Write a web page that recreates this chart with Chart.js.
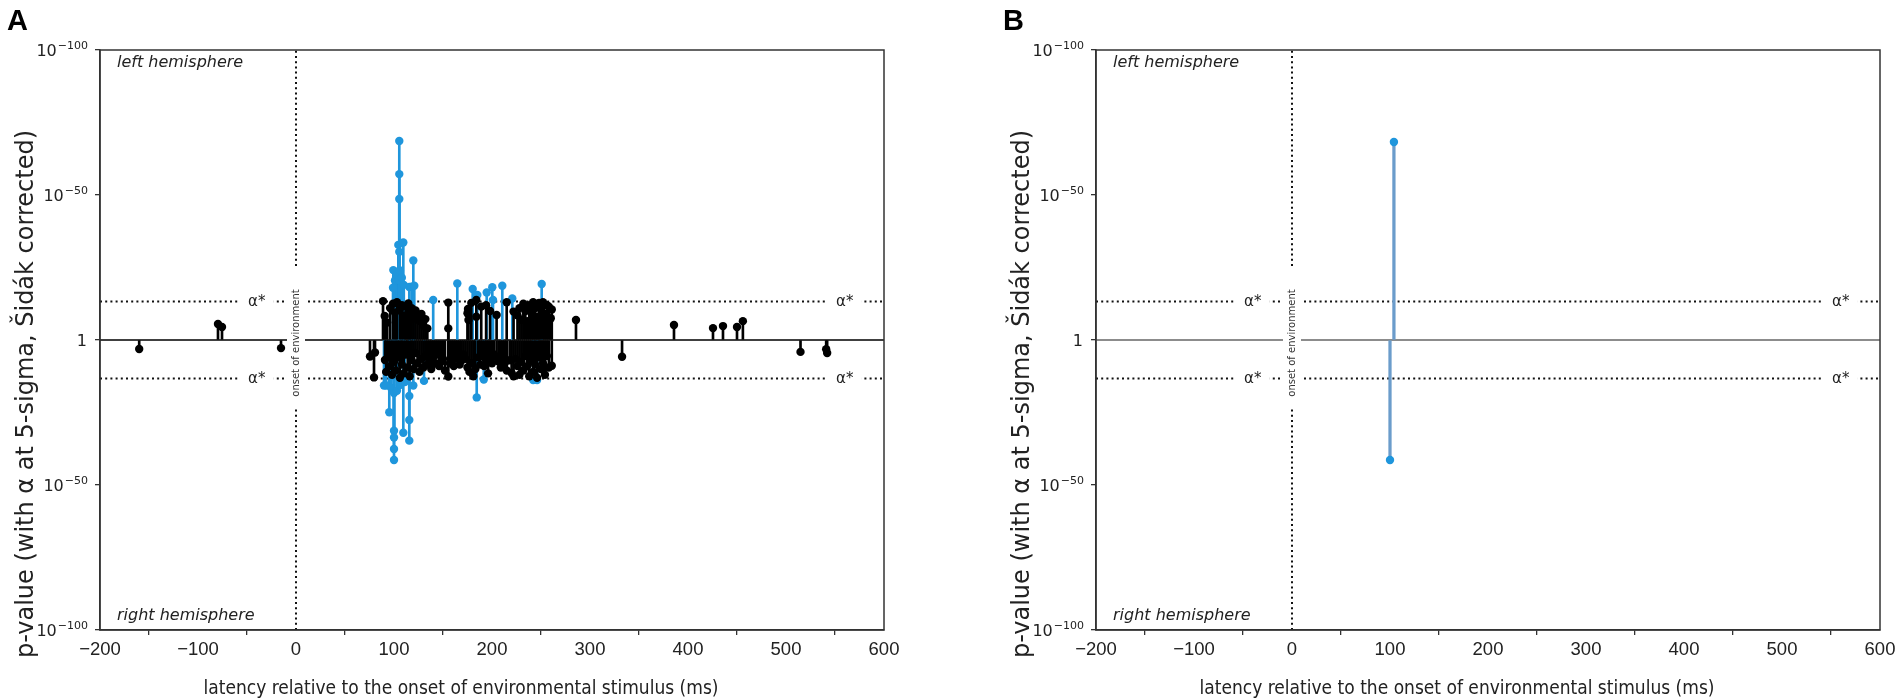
<!DOCTYPE html>
<html>
<head>
<meta charset="utf-8">
<script src="https://cdn.jsdelivr.net/npm/chart.js@4.4.1/dist/chart.umd.min.js"></script>
<style>
  html, body { margin: 0; padding: 0; background: #fff; }
  body { width: 1902px; height: 700px; position: relative; overflow: hidden; }
  .panel { position: absolute; top: 0; width: 906px; height: 700px; }
  #panelA { left: 0; }
  #panelB { left: 996px; }
</style>
</head>
<body>
<div class="panel" id="panelA"><canvas id="chartA"></canvas></div>
<div class="panel" id="panelB"><canvas id="chartB"></canvas></div>
<script>
// axis ticks
const xTicks = [-200, -100, 0, 100, 200, 300, 400, 500, 600];
const xTickLabels = ['\u2212200', '\u2212100', '0', '100', '200', '300', '400', '500', '600'];
const yTicks = [-100, -50, 0, 50, 100];
const yTickBase = ['10', '10', '1', '10', '10'];
const yTickExp = ['\u2212100', '\u221250', '', '\u221250', '\u2212100'];

// signed -log10(p): positive = left hemisphere, negative = right hemisphere
const alphaLevel = 13.3;

// panel A, black stems
const aBlackMs = [
  -79.6, -75.5,
  88.8, 90.5, 93, 96, 99, 101, 103, 106, 108, 110, 112, 114.6, 116, 118, 120, 122, 124, 126, 128, 130, 132, 134,
  155.4, 155.4, 175, 175.5, 176, 178.9, 184, 184, 189, 194, 198,
  204.7, 215, 222,
  226, 228, 230, 232, 234, 236, 238, 240, 242, 244, 246, 248, 250, 252, 254, 256, 258, 260, 261,
  285.7, 385.7, 425.5, 435.7, 450, 456,
  -160, -15.3, 75.5, 79.6, 80.6,
  90.8, 92, 94, 96, 98, 100, 102, 104, 106, 108, 110, 112, 114, 116, 118, 120, 122, 124, 126, 128, 130, 132, 134,
  136, 138, 140, 142, 144, 146, 148, 150, 152, 155.4, 157, 159, 161, 163, 165, 167, 169, 171, 173, 175, 177, 179,
  181, 183, 186, 188, 190, 192, 194, 196, 198, 200, 202, 204.7, 207, 209, 211, 213, 215, 218, 220, 222, 224, 226,
  228, 230, 232, 234, 236, 238, 240, 242, 244, 246, 248, 250, 252, 254, 256, 258, 261,
  332.7, 514.8, 541, 542
];
const aBlackLogP = [
  5.5, 4.5,
  13.4, 8.3, 6.0, 11.0, 12.5, 9.5, 13.0, 10.5, 12.0, 8.5, 11.5, 12.6, 9.8, 11.0, 7.5, 10.2, 8.8, 6.5, 9.0, 5.0, 7.2, 4.0,
  12.9, 4.0, 9.2, 10.7, 6.9, 12.8, 13.8, 8.0, 11.5, 12.0, 10.0,
  8.6, 13.0, 9.8,
  8.5, 11.0, 7.0, 12.5, 10.0, 6.5, 12.0, 9.5, 13.0, 11.0, 8.0, 12.8, 10.5, 13.0, 9.0, 12.0, 11.5, 7.5, 10.5,
  6.9, 5.2, 4.1, 4.8, 4.5, 6.5,
  -3.1, -2.8, -5.7, -12.9, -4.3,
  -6.9, -11.0, -5.5, -9.0, -12.0, -7.5, -10.5, -6.0, -13.0, -8.5, -11.5, -5.0, -9.5, -12.5, -7.0, -10.0, -4.5, -8.0, -11.0, -6.5, -9.5, -5.5, -8.5,
  -7.0, -10.0, -6.0, -8.0, -5.0, -9.0, -7.5, -6.5, -10.5, -12.6, -8.0, -5.5, -9.0, -6.5, -4.5, -8.5, -7.0, -5.0, -6.5, -9.5, -11.0, -8.0,
  -12.5, -10.0, -6.0, -8.5, -5.5, -9.0, -7.0, -11.5, -6.5, -8.0, -5.0, -5.9, -7.5, -9.5, -6.0, -8.0, -10.5, -7.0, -11.4, -12.5, -6.5, -9.0,
  -12.0, -7.5, -10.5, -5.5, -9.0, -12.5, -7.0, -11.0, -8.5, -13.0, -6.0, -10.0, -8.0, -12.0, -5.5, -9.5, -8.9,
  -5.8, -4.1, -3.2, -4.5
];

// panel A, blue stems (significant)
const aBlueMs = [
  99.3, 99, 101, 103, 104.4, 105.4, 105.4, 105.4, 105.4, 105, 106, 108, 109.5, 110, 115.6, 118, 119.7, 120.7,
  140, 164.6, 180.3, 185, 194.6, 200.3, 201, 210.5, 220.7, 250.7,
  89.8, 92, 95.2, 97, 100, 100, 100, 100, 100, 103, 106, 109.5, 111, 115.6, 115.6, 115.6, 119.7, 130.6,
  184.4, 191.6, 242, 246
];
const aBlueLogP = [
  24.1, 18.0, 20.5, 22.5, 32.8, 68.6, 57.2, 48.6, 30.4, 20.7, 24.0, 21.5, 33.6, 19.0, 18.3, 18.4, 27.4, 18.7,
  13.8, 19.5, 17.6, 15.5, 16.4, 18.2, 13.8, 18.7, 14.3, 19.3,
  -15.7, -15.7, -24.9, -16.5, -18.3, -31.3, -33.6, -37.6, -41.4, -17.5, -15.5, -32.0, -14.5, -19.3, -27.6, -34.7, -15.7, -14.1,
  -19.8, -13.6, -13.8, -13.8
];

// panel B, blue stems
const bBlueMs = [104, 100];
const bBlueLogP = [68.3, -41.4];

const BLUE = '#1f96dc';
const INK = '#222';
const Y_TITLE = 'p-value (with α at 5-sigma, Šidák corrected)';
const X_TITLE = 'latency relative to the onset of environmental stimulus (ms)';

function pts(xs, ys) { return xs.map((x, i) => ({ x: x, y: ys[i] })); }

// text overlays: y tick labels with exponents, axis titles, α* labels, onset label, hemisphere labels, frame, letter
const overlay = {
  id: 'overlay',
  afterDatasetsDraw(chart, args, opts) {
    const { ctx, chartArea: a, scales: { x, y } } = chart;
    ctx.save();

    // y tick labels: 10 with raised exponent
    ctx.fillStyle = INK;
    ctx.textAlign = 'right';
    ctx.textBaseline = 'alphabetic';
    yTicks.forEach((v, i) => {
      const py = y.getPixelForValue(v);
      const xr = a.left - 12;
      let expW = 0;
      if (yTickExp[i]) {
        ctx.font = '11px "DejaVu Sans"';
        expW = ctx.measureText(yTickExp[i]).width;
        ctx.fillText(yTickExp[i], xr, py - 1);
      }
      ctx.font = '16px "DejaVu Sans"';
      ctx.fillText(yTickBase[i], xr - expW - 1, py + 6);
    });

    // axis titles (both sit off-centre in the figure)
    ctx.textAlign = 'center';
    ctx.textBaseline = 'middle';
    ctx.font = '19px "DejaVu Sans Condensed", "DejaVu Sans"';
    ctx.fillText(X_TITLE, 461, 689);
    ctx.save();
    ctx.translate(27, 394);
    ctx.rotate(-Math.PI / 2);
    ctx.font = '24px "DejaVu Sans"';
    ctx.fillText(Y_TITLE, 0, 0);
    ctx.restore();

    // α* labels on the dotted lines
    ctx.font = '15px "DejaVu Sans"';
    [-40, 560].forEach(ms => {
      [alphaLevel, -alphaLevel].forEach(lv => {
        const px = x.getPixelForValue(ms), py = y.getPixelForValue(lv);
        ctx.fillStyle = '#fff';
        ctx.fillRect(px - 17, py - 9, 34, 18);
        ctx.fillStyle = INK;
        ctx.fillText('α*', px, py + 1);
      });
    });

    // onset of environment
    const ox = x.getPixelForValue(0), oy = y.getPixelForValue(0);
    ctx.fillStyle = '#fff';
    ctx.fillRect(ox - 9, oy - 72, 18, 140);
    ctx.save();
    ctx.translate(ox, oy + 3);
    ctx.rotate(-Math.PI / 2);
    ctx.fillStyle = '#333';
    ctx.font = '10px "DejaVu Sans"';
    ctx.fillText('onset of environment', 0, 0);
    ctx.restore();

    // hemisphere labels
    ctx.textAlign = 'left';
    ctx.fillStyle = INK;
    ctx.font = 'italic 16px "DejaVu Sans"';
    ctx.fillText('left hemisphere', a.left + 17, a.top + 13);
    ctx.fillText('right hemisphere', a.left + 17, a.bottom - 14);

    // axes frame
    ctx.strokeStyle = '#333';
    ctx.lineWidth = 1.5;
    ctx.strokeRect(a.left, a.top, a.right - a.left, a.bottom - a.top);

    // panel letter
    ctx.fillStyle = '#000';
    ctx.font = 'bold 29px "Liberation Sans"';
    ctx.textBaseline = 'top';
    ctx.fillText(opts.letter, 7, 7);
    ctx.restore();
  }
};

function refLines() {
  const dotted = { type: 'line', borderColor: '#111', borderWidth: 2, borderDash: [2, 3.2], pointRadius: 0, fill: false, order: 6 };
  return [
    Object.assign({}, dotted, { data: [{ x: -200, y: alphaLevel }, { x: 600, y: alphaLevel }] }),
    Object.assign({}, dotted, { data: [{ x: -200, y: -alphaLevel }, { x: 600, y: -alphaLevel }] }),
    Object.assign({}, dotted, { data: [{ x: 0, y: -100 }, { x: 0, y: 100 }] })
  ];
}

function makeChart(id, letter, series, zeroColor, stemWidth) {
  const datasets = [];
  datasets.push({ type: 'line', data: [{ x: -200, y: 0 }, { x: 600, y: 0 }], borderColor: zeroColor, borderWidth: 1.6, pointRadius: 0, fill: false, order: 5 });
  refLines().forEach(d => datasets.push(d));
  series.forEach(s => {
    datasets.push({
      type: 'bar', data: pts(s.ms, s.logp), backgroundColor: s.stem, borderWidth: 0,
      barThickness: stemWidth, grouped: false, order: s.order + 2
    });
    datasets.push({
      type: 'scatter', data: pts(s.ms, s.logp), backgroundColor: s.color, borderColor: s.color,
      pointRadius: 4.2, pointHoverRadius: 4.2, borderWidth: 0, order: s.order
    });
  });

  return new Chart(document.getElementById(id), {
    type: 'bar',
    data: { datasets: datasets },
    plugins: [overlay],
    options: {
      responsive: true,
      maintainAspectRatio: false,
      animation: false,
      events: [],
      layout: { padding: { top: 50, right: 22, left: 0, bottom: 0 } },
      plugins: { legend: { display: false }, tooltip: { enabled: false }, overlay: { letter: letter } },
      scales: {
        x: {
          type: 'linear', min: -200, max: 600, offset: false,
          afterFit: s => { s.height = 70; },
          afterBuildTicks: s => { s.ticks = xTicks.map(v => ({ value: v })); },
          grid: { drawOnChartArea: false, tickLength: 5, color: '#333', lineWidth: 1.3 },
          border: { color: '#333', width: 1.5 },
          ticks: {
            color: INK, padding: 4, maxRotation: 0, autoSkip: false,
            font: { family: '"Liberation Sans Narrow", "Liberation Sans"', size: 18.5 },
            callback: v => xTickLabels[xTicks.indexOf(v)]
          }
        },
        y: {
          type: 'linear', min: -100, max: 100,
          afterFit: s => { s.width = 100; },
          afterBuildTicks: s => { s.ticks = yTicks.map(v => ({ value: v })); },
          grid: { drawOnChartArea: false, tickLength: 5, color: '#333', lineWidth: 1.3 },
          border: { color: '#333', width: 1.5 },
          ticks: { callback: () => '' }
        }
      }
    }
  });
}

makeChart('chartA', 'A', [
  { ms: aBlueMs, logp: aBlueLogP, color: BLUE, stem: BLUE, order: 1 },
  { ms: aBlackMs, logp: aBlackLogP, color: '#000', stem: '#000', order: 0 }
], '#000', 2);

makeChart('chartB', 'B', [
  { ms: bBlueMs, logp: bBlueLogP, color: BLUE, stem: '#6b9ccb', order: 1 }
], '#666', 2.6);
</script>
</body>
</html>
